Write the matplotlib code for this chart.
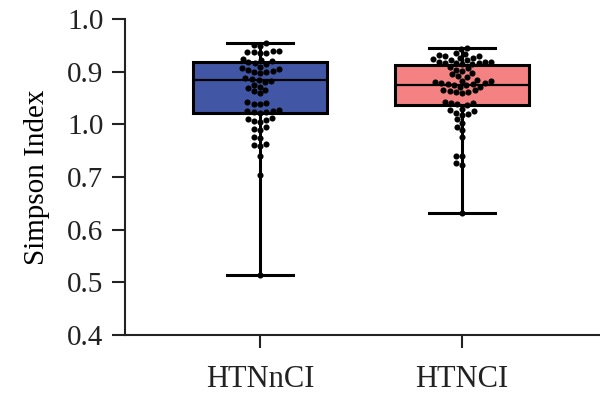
import matplotlib
matplotlib.use("Agg")
import matplotlib.pyplot as plt
import seaborn as sns
import pandas as pd
import numpy as np

categories = ["HTNnCI", "HTNCI"]
colors = ["#4157a6", "#f58282"]

# box statistics
q1 = [0.822, 0.837]
med = [0.884, 0.875]
q3 = [0.918, 0.913]
whislo = [0.514, 0.632]
whishi = [0.954, 0.945]

htnnci = [0.954, 0.951, 0.949, 0.940, 0.939, 0.938, 0.937, 0.936, 0.935,
          0.925, 0.922, 0.920, 0.918, 0.917, 0.915, 0.910, 0.908, 0.906,
          0.904, 0.902, 0.900, 0.899, 0.898, 0.888, 0.886, 0.884, 0.882,
          0.880, 0.875, 0.872, 0.869, 0.866, 0.863, 0.860, 0.842, 0.840,
          0.839, 0.838, 0.827, 0.826, 0.825, 0.824, 0.823, 0.822, 0.812,
          0.810, 0.808, 0.806, 0.805, 0.795, 0.792, 0.790, 0.776, 0.775,
          0.762, 0.761, 0.760, 0.740, 0.704, 0.514]
htnci = [0.945, 0.943, 0.935, 0.934, 0.932, 0.930, 0.929, 0.927, 0.926,
         0.924, 0.923, 0.922, 0.919, 0.918, 0.918, 0.917, 0.917, 0.916,
         0.915, 0.915, 0.910, 0.907, 0.904, 0.901, 0.898, 0.895, 0.892,
         0.890, 0.884, 0.883, 0.882, 0.880, 0.879, 0.878, 0.877, 0.876,
         0.875, 0.874, 0.872, 0.871, 0.866, 0.865, 0.864, 0.862, 0.861,
         0.860, 0.842, 0.841, 0.840, 0.838, 0.837, 0.830, 0.827, 0.825,
         0.822, 0.820, 0.818, 0.810, 0.803, 0.796, 0.790, 0.776, 0.741,
         0.740, 0.727, 0.723, 0.632]

yticks = [0.4, 0.5, 0.6, 0.7, 0.8, 0.9, 1.0]
ytick_labels = ["0.4", "0.5", "0.6", "0.7", "1.0", "0.9", "1.0"]

plt.rcParams["font.family"] = ["Liberation Serif", "DejaVu Serif"]

fig = plt.figure(figsize=(6.0, 3.98), dpi=100)
ax = fig.add_axes([0.2083, 0.158, 0.792, 0.794])

stats = []
for i in range(2):
    stats.append(dict(q1=q1[i], med=med[i], q3=q3[i], whislo=whislo[i],
                      whishi=whishi[i], fliers=[], label=categories[i]))
bp = ax.bxp(stats, positions=[0, 1], widths=0.66, patch_artist=True,
            showfliers=False, capwidths=0.33,
            boxprops=dict(linewidth=2.2, edgecolor="black"),
            medianprops=dict(color="black", linewidth=1.6),
            whiskerprops=dict(color="black", linewidth=2.2),
            capprops=dict(color="black", linewidth=2.2))
for patch, c in zip(bp["boxes"], colors):
    patch.set_facecolor(c)

df = pd.DataFrame({
    "group": [categories[0]] * len(htnnci) + [categories[1]] * len(htnci),
    "value": htnnci + htnci,
})
n_before = len(ax.collections)
sns.swarmplot(data=df, x="group", y="value", order=categories, color="black",
              size=4.4, ax=ax, zorder=5)
fig.canvas.draw()
# tighten the swarm a little so dots overlap as in the reference
for coll in ax.collections[n_before:]:
    off = coll.get_offsets()
    if len(off) == 0:
        continue
    center = np.round(np.median(off[:, 0]))
    off[:, 0] = center + (off[:, 0] - center) * 0.72
    coll.set_offsets(off)

ax.set_xlim(-0.668, 1.683)
ax.set_ylim(0.4, 1.0)
ax.set_yticks(yticks)
ax.set_yticklabels(ytick_labels)
ax.set_xticks([0, 1])
ax.set_xticklabels(categories)
ax.set_xlabel("")
ax.set_ylabel("Simpson Index", fontsize=21, labelpad=12)
ax.tick_params(axis="both", width=1.5, length=9.5, colors="#222222",
               labelcolor="#222222")
ax.tick_params(axis="y", labelsize=21, pad=6)
ax.tick_params(axis="x", labelsize=22, pad=12)
for s in ["top", "right"]:
    ax.spines[s].set_visible(False)
for s in ["left", "bottom"]:
    ax.spines[s].set_linewidth(1.5)
    ax.spines[s].set_color("#222222")

fig.savefig("out.png", dpi=100)
